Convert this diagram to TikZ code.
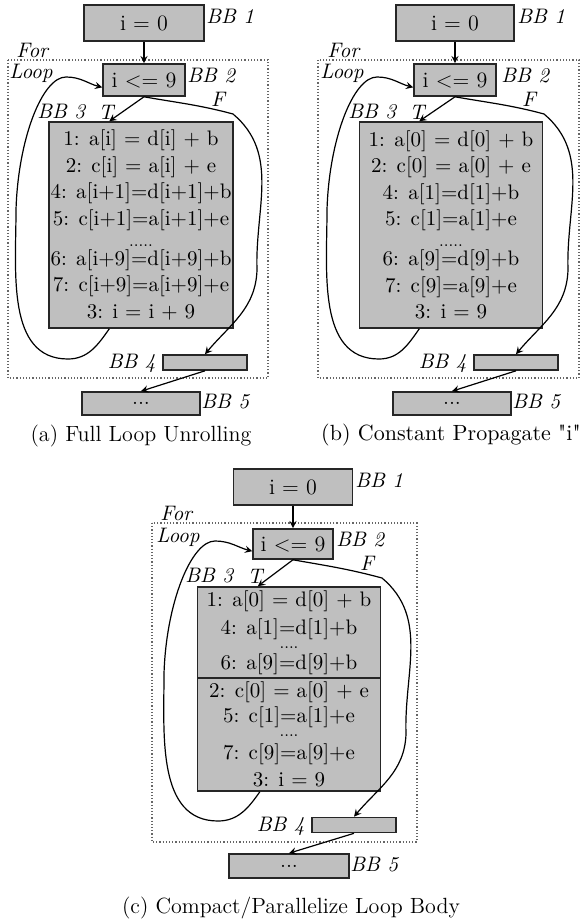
\documentclass[tikz,border=0pt]{standalone}
\usetikzlibrary{arrows}
\font\quotefont="[lmroman10-regular]" at 11pt
\tikzset{
  bb/.style={draw=black!85, line width=0.8pt, fill=black!25, inner sep=0pt, font=\fontsize{11}{13}\selectfont},
  code/.style={bb, align=center, font=\fontsize{10.5}{13.25}\selectfont},
  bblab/.style={inner sep=0pt, font=\fontsize{10.5}{12}\selectfont\itshape},
  loopframe/.style={draw=black!60, densely dotted, line width=0.6pt},
  flow/.style={->, >=stealth, line width=0.6pt},
  subcap/.style={inner sep=0pt, font=\fontsize{11}{13}\selectfont}
}
\begin{document}
\begin{tikzpicture}[x=0.5pt, y=0.5pt]
    \useasboundingbox (0,0) rectangle (583,-920);

    % (a) full loop unrolling
    \begin{scope}
        \draw[loopframe] (8,-60) rectangle (268,-378);
        \node[bb, minimum width=60pt, minimum height=18pt] (a1) at (144,-23) {i = 0};
        \node[bb, minimum width=41pt, minimum height=16pt] (a2) at (144,-80) {i <= 9};
        \node[code, minimum width=92pt, minimum height=103pt] (a3) at (141,-225)
            {1: a[i] = d[i] + b\\ 2: c[i] = a[i] + e\\ 4: a[i+1]=d[i+1]+b\\ 5: c[i+1]=a[i+1]+e\\[-2.75pt]
             {\footnotesize .....}\\[-3.75pt] 6: a[i+9]=d[i+9]+b\\ 7: c[i+9]=a[i+9]+e\\ 3: i = i + 9};
        \node[bb, minimum width=42pt, minimum height=7.5pt] (a4) at (205,-362.5) {};
        \node[bb, minimum width=59pt, minimum height=11.5pt] (a5) at (141,-403.5) {...};
        \node[bblab, anchor=west] (a1lab) at (206,-16) {BB 1};
        \node[bblab, anchor=west] (a2lab) at (187,-76) {BB 2};
        \node[bblab, anchor=west] (a3lab) at (37,-112) {BB 3};
        \node[bblab, anchor=east] (a4lab) at (156,-363) {BB 4};
        \node[bblab, anchor=west] (a5lab) at (201,-402) {BB 5};
        \node[bblab, anchor=west] (aFor) at (16,-50) {For};
        \node[bblab, anchor=west] (aLoop) at (9,-73) {Loop};
        \node[bblab] (aT) at (106,-112) {T};
        \node[bblab] (aF) at (218,-99) {F};
        \node[subcap] (acap) at (141,-436) {(a) Full Loop Unrolling};
        \draw[flow] (a1) -- (a2);
        \draw[flow] (a2.south) -- (a3.107);
        \draw[flow] (a3.253) to[out=235, in=0] (68,-359) to[out=180, in=270] (16,-210)
            .. controls (18,-140) and (42,-77) .. (66,-77) to[out=0, in=165] (a2.190);
        \draw[flow] (a2.south) to[out=-10, in=165] (233,-114) to[out=-40, in=92] (257,-270)
            to[out=268, in=50] (a4.north);
        \draw[flow] (a4.south) -- (a5.north);
    \end{scope}

    % (b) constant propagation of i
    \begin{scope}[shift={(311,0)}]
        \draw[loopframe] (7,-60) rectangle (268,-378);
        \node[bb, minimum width=59pt, minimum height=18pt] (b1) at (144,-23) {i = 0};
        \node[bb, minimum width=41pt, minimum height=16pt] (b2) at (144,-80) {i <= 9};
        \node[code, minimum width=91.5pt, minimum height=103pt] (b3) at (140,-225)
            {1: a[0] = d[0] + b\\ 2: c[0] = a[0] + e\\ 4: a[1]=d[1]+b\\ 5: c[1]=a[1]+e\\[-2.75pt]
             {\footnotesize .....}\\[-3.75pt] 6: a[9]=d[9]+b\\ 7: c[9]=a[9]+e\\ 3: i = 9};
        \node[bb, minimum width=42pt, minimum height=7.5pt] (b4) at (205,-362.5) {};
        \node[bb, minimum width=59pt, minimum height=11.5pt] (b5) at (141,-403.5) {...};
        \node[bblab, anchor=west] (b1lab) at (206,-16) {BB 1};
        \node[bblab, anchor=west] (b2lab) at (190,-76) {BB 2};
        \node[bblab, anchor=west] (b3lab) at (37,-112) {BB 3};
        \node[bblab, anchor=east] (b4lab) at (156,-363) {BB 4};
        \node[bblab, anchor=west] (b5lab) at (201,-402) {BB 5};
        \node[bblab, anchor=west] (bFor) at (16,-50) {For};
        \node[bblab, anchor=west] (bLoop) at (9,-73) {Loop};
        \node[bblab] (bT) at (106,-112) {T};
        \node[bblab] (bF) at (218,-99) {F};
        \node[subcap] (bcap) at (140,-435) {\quotefont (b) Constant Propagate "i"};
        \draw[flow] (b1) -- (b2);
        \draw[flow] (b2.south) -- (b3.107);
        \draw[flow] (b3.253) to[out=235, in=0] (68,-359) to[out=180, in=270] (16,-210)
            .. controls (18,-140) and (42,-77) .. (66,-77) to[out=0, in=165] (b2.190);
        \draw[flow] (b2.south) to[out=-10, in=165] (233,-114) to[out=-40, in=92] (257,-270)
            to[out=268, in=50] (b4.north);
        \draw[flow] (b4.south) -- (b5.north);
    \end{scope}

    % (c) compacted loop body
    \begin{scope}[shift={(149,-464)}]
        \draw[loopframe] (3,-59) rectangle (268,-378);
        \node[bb, minimum width=59.5pt, minimum height=18pt] (c1) at (144,-23) {i = 0};
        \node[bb, minimum width=40pt, minimum height=15pt] (c2) at (144,-80) {i <= 9};
        \node[code, minimum width=91.5pt, minimum height=45.5pt] (c3a) at (140,-168.5)
            {1: a[0] = d[0] + b\\[0.75pt] 4: a[1]=d[1]+b\\[-6.25pt] {\footnotesize ....}\\[-2.75pt] 6: a[9]=d[9]+b};
        \node[code, minimum width=91.5pt, minimum height=56.5pt] (c3b) at (140,-270.5)
            {2: c[0] = a[0] + e\\[-0.75pt] 5: c[1]=a[1]+e\\[-6.25pt] {\footnotesize ....}\\[-1.75pt] 7: c[9]=a[9]+e\\ 3: i = 9};
        \node[bb, minimum width=42pt, minimum height=7.5pt] (c4) at (205,-361) {};
        \node[bb, minimum width=60pt, minimum height=12pt] (c5) at (140,-402) {...};
        \node[bblab, anchor=west] (c1lab) at (206,-16) {BB 1};
        \node[bblab, anchor=west] (c2lab) at (187,-76) {BB 2};
        \node[bblab, anchor=west] (c3lab) at (36,-112) {BB 3};
        \node[bblab, anchor=east] (c4lab) at (156,-362) {BB 4};
        \node[bblab, anchor=west] (c5lab) at (201,-401) {BB 5};
        \node[bblab, anchor=west] (cFor) at (11,-49) {For};
        \node[bblab, anchor=west] (cLoop) at (7,-73) {Loop};
        \node[bblab] (cT) at (106,-112) {T};
        \node[bblab] (cF) at (218,-99) {F};
        \node[subcap] (ccap) at (142,-444) {(c) Compact/Parallelize Loop Body};
        \draw[flow] (c1) -- (c2);
        \draw[flow] (c2.south) -- (c3a.124);
        \draw[flow] (c3b.243) to[out=235, in=0] (69,-357) to[out=180, in=270] (15,-210)
            .. controls (17,-140) and (42,-77) .. (66,-77) to[out=0, in=165] (c2.190);
        \draw[flow] (c2.south) to[out=-10, in=165] (233,-114) to[out=-40, in=92] (257,-270)
            to[out=268, in=50] (c4.north);
        \draw[flow] (c4.south) -- (c5.north);
    \end{scope}
\end{tikzpicture}
\end{document}
